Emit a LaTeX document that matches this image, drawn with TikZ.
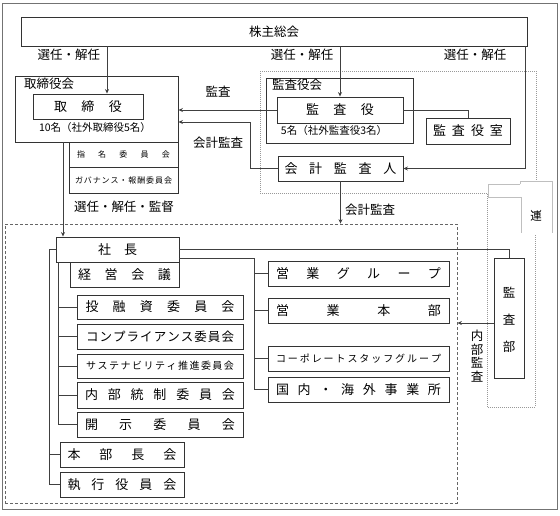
\documentclass[tikz,border=0pt]{standalone}
\usepackage{fontspec}
\setmainfont{Noto Sans CJK JP}
\usetikzlibrary{arrows.meta}
\makeatletter
\newcommand\spreadtext[2]{\makebox[#1][s]{\spread@first#2\@nil}}
\def\spread@first#1{#1\spread@next}
\def\spread@next#1{\ifx#1\@nil\else\hfill#1\expandafter\spread@next\fi}
\makeatother
\tikzset{
  box/.style={draw=black!80, line width=0.9pt, inner sep=0pt, minimum height=25pt},
  conn/.style={draw=black!75, line width=0.7pt},
  arr/.style={conn, -{Stealth[length=4.5pt,width=4pt]}},
  lbl/.style={inner sep=0pt, font=\fontsize{12.5}{14}\selectfont},
  fbig/.style={font=\fontsize{13}{15}\selectfont},
  fsmall/.style={inner sep=0pt, font=\fontsize{10.5}{12}\selectfont},
  glitch/.style={draw=black!25, line width=0.5pt},
}
\begin{document}
\begin{tikzpicture}[x=1pt,y=-1pt]
\useasboundingbox (0,0) rectangle (560,515);
\draw[black!55, line width=1pt] (2,3) rectangle (557,509);

% dotted audit region
\draw[black!40, line width=0.6pt, dash pattern=on 1pt off 1pt] (260,71) -- (536,71) -- (536,182);
\draw[black!40, line width=0.6pt, dash pattern=on 1pt off 1pt] (535,235) -- (535,407) -- (487,407) -- (487,193) -- (260,193) -- (260,71);
% leftover text-box frame
\draw[glitch] (520,184) -- (520,181) -- (552,181) -- (552,233);
\draw[glitch] (520,184) -- (488,184) -- (488,197) -- (521,197) -- (521,233);
\node[inner sep=0pt, font=\fontsize{11.5}{13}\selectfont] (ren) at (536,216) {連};
\draw[black!80, line width=0.6pt] (531,210) arc[start angle=180, end angle=360, x radius=5pt, y radius=3pt];

% dashed executive frame
\node[draw=black!60, line width=0.8pt, dash pattern=on 3pt off 2pt, inner sep=0pt, minimum width=452pt, minimum height=279pt] (frame) at (231,363.5) {};

% shareholders
\node[box, minimum width=506pt, minimum height=29pt, lbl] (kabu) at (274,31.5) {株主総会};
\node[lbl] (sel1) at (69,55) {選任・解任};
\node[lbl] (sel2) at (302,55) {選任・解任};
\node[lbl] (sel3) at (475,55) {選任・解任};

% board
\node[box, minimum width=163pt, minimum height=66pt] (toriboard) at (96.5,109) {};
\node[lbl, anchor=west] (toriboardlbl) at (24,84) {取締役会};
\node[box, minimum width=110pt, fbig] (tori) at (88,106.5) {\spreadtext{68pt}{取締役}};
\node[fsmall] (toricount) at (95,128) {10名（社外取締役5名）};
\node[box, minimum width=109pt, font=\fontsize{8}{9}\selectfont] (shimei) at (123.5,154.5) {\spreadtext{93pt}{指名委員会}};
\node[box, minimum width=109pt, minimum height=26pt, font=\fontsize{8}{9}\selectfont] (gov) at (123.5,180) {\spreadtext{97pt}{ガバナンス・報酬委員会}};

% auditors
\node[box, minimum width=147pt, minimum height=65pt] (kansaboard) at (339.5,110.5) {};
\node[lbl, anchor=west] (kansaboardlbl) at (272,85) {監査役会};
\node[box, minimum width=126pt, minimum height=26pt, fbig] (kansayaku) at (340,110) {\spreadtext{68pt}{監査役}};
\node[fsmall] (kansacount) at (334,131) {5名（社外監査役3名）};
\node[box, minimum width=84pt, minimum height=26pt, fbig] (kansashitsu) at (468,131) {\spreadtext{70pt}{監査役室}};
\node[box, minimum width=125pt, fbig] (kaikei) at (340.5,168.5) {\spreadtext{112pt}{会計監査人}};
\node[lbl] (kansalbl) at (218,92) {監査};
\node[lbl] (kaikeilbl) at (218,143) {会計監査};
\node[lbl] (sel4) at (124,207) {選任・解任・監督};
\node[lbl, anchor=west] (kaikeilbl2) at (345,210) {会計監査};

% executive side
\node[box, minimum width=123pt, fbig] (shacho) at (117.5,249.5) {\spreadtext{39pt}{社長}};
\node[box, minimum width=109pt, fbig] (keiei) at (124.5,274.5) {\spreadtext{93pt}{経営会議}};
\node[box, minimum width=166pt, minimum height=24pt, fbig] (touyushi) at (160,307) {\spreadtext{149pt}{投融資委員会}};
\node[box, minimum width=166pt, font=\fontsize{12.5}{14}\selectfont] (compl) at (160,336.5) {\spreadtext{148pt}{コンプライアンス委員会}};
\node[box, minimum width=166pt, minimum height=24pt, font=\fontsize{10}{12}\selectfont] (sustain) at (160,366) {\spreadtext{148pt}{サステナビリティ推進委員会}};
\node[box, minimum width=166pt, minimum height=26pt, fbig] (naibu) at (160,395) {\spreadtext{150pt}{内部統制委員会}};
\node[box, minimum width=166pt, fbig] (kaiji) at (160,424.5) {\spreadtext{150pt}{開示委員会}};
\node[box, minimum width=124pt, fbig] (honbu) at (122,454.5) {\spreadtext{109pt}{本部長会}};
\node[box, minimum width=124pt, fbig] (shikko) at (122,484.5) {\spreadtext{109pt}{執行役員会}};

\node[box, minimum width=181pt, fbig] (eigyoG) at (358.5,273.5) {\spreadtext{165pt}{営業グループ}};
\node[box, minimum width=181pt, fbig] (eigyoH) at (358.5,310.5) {\spreadtext{165pt}{営業本部}};
\node[box, minimum width=181pt, font=\fontsize{10}{12}\selectfont] (corp) at (358.5,358.5) {\spreadtext{165pt}{コーポレートスタッフグループ}};
\node[box, minimum width=181pt, fbig] (kokunai) at (358.5,389.5) {\spreadtext{165pt}{国内・海外事業所}};

\node[box, minimum width=30pt, minimum height=120pt] (kansabu) at (509,318) {};
\node[inner sep=0pt, align=center, font=\fontsize{12.5}{27}\selectfont] (kansabulbl) at (509,320) {監\\査\\部};
\node[inner sep=0pt, align=center, font=\fontsize{12.5}{13.5}\selectfont] (naibulbl) at (477,356) {内\\部\\監\\査};

% connectors
\coordinate (xa) at (107,0);
\coordinate (xc) at (525,168.5);
\coordinate (kj) at (250,122);
\coordinate (xd) at (63,0);
\coordinate (rt) at (254,258);
\coordinate (ny) at (0,323);
\coordinate (lt) at (58,0);
\coordinate (ot) at (49,0);

\draw[arr] (kabu.south -| xa) -- (tori.north -| xa);
\draw[arr] (kabu.south -| kansayaku.north) -- (kansayaku.north);
\draw[arr] (kabu.south -| xc) -- (xc) -- (kaikei.east);
\draw[arr] (kansayaku.west) -- (kansayaku.west -| toriboard.east);
\draw[arr] (kaikei.west) -- (kaikei.west -| kj) -- (kj) -- (kj -| toriboard.east);
\draw[conn] (kansayaku.east) -| (kansashitsu.north);
\draw[arr] (toriboard.south -| xd) -- (shacho.north -| xd);
\draw[arr] (kaikei.south) -- (kaikei.south |- frame.north);

\draw[conn] (kansabu.north) |- (shacho.east);
\draw[conn] (shacho.east |- rt) -- (rt) |- (kokunai.west);
\draw[conn] (rt |- eigyoG.west) -- (eigyoG.west);
\draw[conn] (rt |- eigyoH.west) -- (eigyoH.west);
\draw[conn] (rt |- corp.west) -- (corp.west);
\draw[arr] (kansabu.west |- ny) -- (frame.east |- ny);

\draw[conn] (shacho.south -| lt) |- (kaiji.west);
\draw[conn] (lt |- touyushi.west) -- (touyushi.west);
\draw[conn] (lt |- compl.west) -- (compl.west);
\draw[conn] (lt |- sustain.west) -- (sustain.west);
\draw[conn] (lt |- naibu.west) -- (naibu.west);

\draw[conn] (shacho.west) -- (shacho.west -| ot) |- (shikko.west);
\draw[conn] (ot |- honbu.west) -- (honbu.west);
\end{tikzpicture}
\end{document}
